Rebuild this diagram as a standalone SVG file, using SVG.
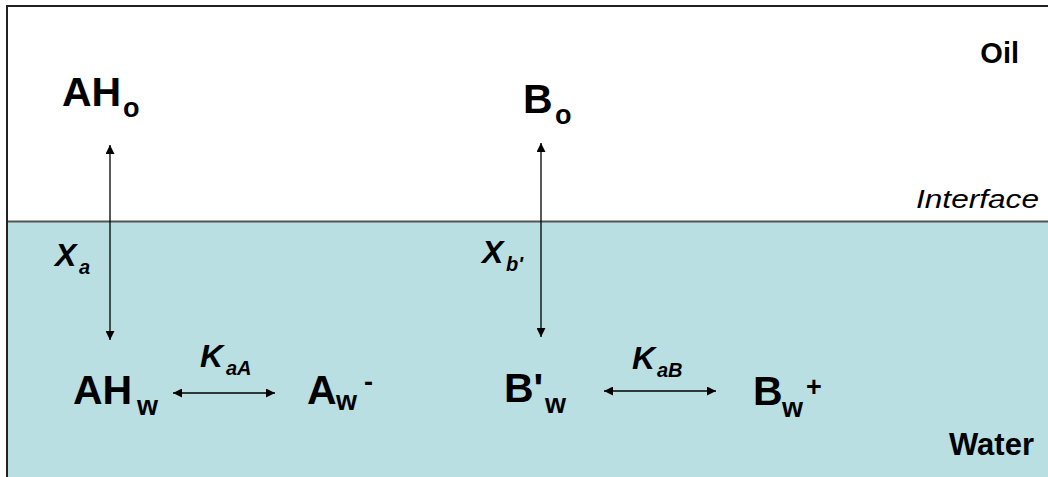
<svg xmlns="http://www.w3.org/2000/svg" width="1048" height="477" viewBox="0 0 1048 477">
<style>
.sp{font-family:"Liberation Sans",Arial,sans-serif;font-weight:bold;font-size:41px;fill:#000}
.sub{font-size:27px}
.k{font-family:"Liberation Sans",Arial,sans-serif;font-weight:bold;font-style:italic;font-size:32px;fill:#000}
.ks{font-size:20px}
.lbl{font-family:"Liberation Sans",Arial,sans-serif;font-weight:bold;fill:#000}
.con{stroke:#000;stroke-width:1.3;fill:none}
</style>
<defs>
<marker id="ah" viewBox="0 0 10 10" refX="10" refY="5" markerWidth="9" markerHeight="9" markerUnits="userSpaceOnUse" orient="auto-start-reverse">
<path d="M0,0 L10,5 L0,10 z" fill="#000"/>
</marker>
</defs>
<rect x="0" y="0" width="1048" height="477" fill="#fff"/>
<g id="phases">
<rect x="8" y="222" width="1040" height="255" fill="#b9dfe3"/>
<line x1="8" y1="221.5" x2="1048" y2="221.5" stroke="#555" stroke-width="2"/>
<line x1="7" y1="6" x2="1048" y2="6" stroke="#222" stroke-width="2"/>
<line x1="7" y1="5" x2="7" y2="477" stroke="#222" stroke-width="2"/>
</g>
<g id="labels">
<text class="lbl" x="1019" y="63" font-size="29" text-anchor="end">Oil</text>
<text x="1039" y="208" font-family="Liberation Sans,Arial,sans-serif" font-style="italic" font-size="26" text-anchor="end" textLength="123" lengthAdjust="spacingAndGlyphs">Interface</text>
<text class="lbl" x="1034" y="455" font-size="31" text-anchor="end">Water</text>
</g>
<g id="AHo"><text class="sp" x="62" y="106">AH<tspan class="sub" x="123" y="117">o</tspan></text></g>
<g id="Bo"><text class="sp" x="523" y="113">B<tspan class="sub" x="555" y="124">o</tspan></text></g>
<g id="AHw"><text class="sp" x="73" y="404">AH<tspan class="sub" x="137" y="415">w</tspan></text></g>
<g id="Aw"><text class="sp" x="307" y="404">A<tspan class="sub" x="336" y="410">w</tspan><tspan class="sub" x="364" y="391">-</tspan></text></g>
<g id="Bpw"><text class="sp" x="504" y="402">B'<tspan class="sub" x="545" y="413">w</tspan></text></g>
<g id="Bw"><text class="sp" x="753" y="405">B<tspan class="sub" x="782" y="417">w</tspan><tspan class="sub" x="806" y="396">+</tspan></text></g>
<g id="rate-labels">
<text class="k" x="55" y="266">X<tspan class="ks" x="79" y="274">a</tspan></text>
<text class="k" x="482" y="263">X<tspan class="ks" x="506" y="271">b'</tspan></text>
<text class="k" x="200" y="367">K<tspan class="ks" x="226" y="375">aA</tspan></text>
<text class="k" x="632" y="369">K<tspan class="ks" x="657" y="377">aB</tspan></text>
</g>
<g id="connectors">
<line class="con" x1="110" y1="145" x2="110" y2="340" marker-start="url(#ah)" marker-end="url(#ah)"/>
<line class="con" x1="541" y1="143" x2="541" y2="337" marker-start="url(#ah)" marker-end="url(#ah)"/>
<line class="con" x1="173" y1="393" x2="275" y2="393" marker-start="url(#ah)" marker-end="url(#ah)"/>
<line class="con" x1="604" y1="391" x2="716" y2="391" marker-start="url(#ah)" marker-end="url(#ah)"/>
</g>
</svg>
